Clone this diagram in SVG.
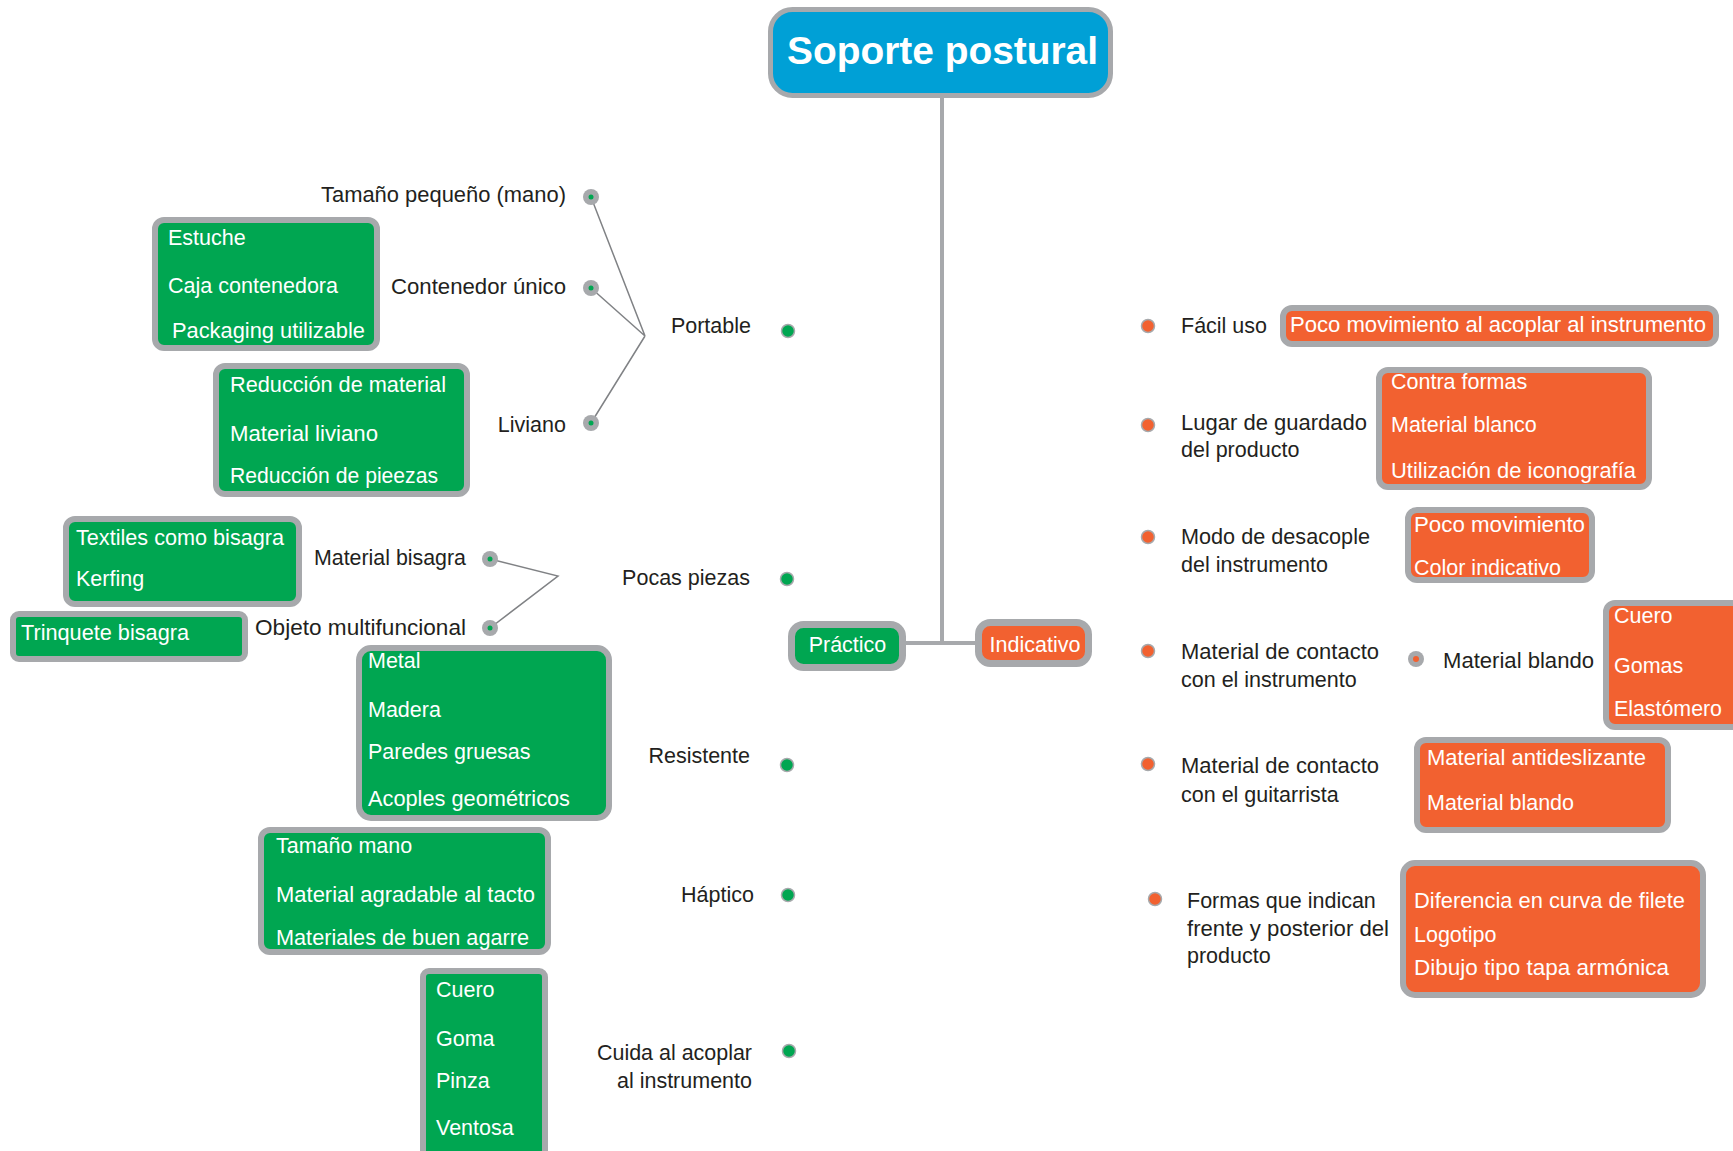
<svg xmlns="http://www.w3.org/2000/svg" width="1733" height="1151" viewBox="0 0 1733 1151">
<style>
.lbl{font-family:"Liberation Sans",Arial,sans-serif;font-size:21.5px;fill:#231f20}
.wt{font-family:"Liberation Sans",Arial,sans-serif;font-size:21.5px;fill:#ffffff}
.end{text-anchor:end}
.gbox{fill:#00a651;stroke:#a7a9ac;stroke-width:6}
.obox{fill:#f26130;stroke:#a7a9ac;stroke-width:6}
.dotg{fill:#00a651;stroke:#a7a9ac;stroke-width:1.5}
.doto{fill:#f26130;stroke:#a7a9ac;stroke-width:1.5}
.sub{fill:#a7a9ac}
.conn{stroke:#808285;stroke-width:1.5;fill:none}
.trunk{stroke:#a7a9ac;stroke-width:4;fill:none}
</style>
<rect width="1733" height="1151" fill="#ffffff"/>

<g id="connectors">
  <path class="trunk" d="M942 96 V643 M905 643 H977"/>
  <path class="conn" d="M591 197 L645 336 M591 288 L645 336 M591 423 L645 336"/>
  <path class="conn" d="M490 559 L558 576 L490 628"/>
</g>

<g id="title">
  <rect x="770.5" y="9.5" width="340" height="86" rx="22" fill="#00a0d6" stroke="#a7a9ac" stroke-width="5"/>
  <text x="942.5" y="64" text-anchor="middle" font-family="'Liberation Sans',Arial,sans-serif" font-size="39" font-weight="bold" fill="#ffffff" textLength="311" lengthAdjust="spacingAndGlyphs">Soporte postural</text>
</g>

<g id="practico">
  <rect x="791.5" y="624.5" width="111" height="43" rx="12" fill="#00a651" stroke="#a7a9ac" stroke-width="7"/>
  <text class="wt" x="847.5" y="652" text-anchor="middle" font-size="22">Práctico</text>
</g>
<g id="indicativo">
  <rect x="978.5" y="622.5" width="110" height="41" rx="12" fill="#f26130" stroke="#a7a9ac" stroke-width="7"/>
  <text class="wt" x="1035" y="652" text-anchor="middle" font-size="22">Indicativo</text>
</g>

<!-- Práctico branch -->
<g id="portable">
  <text class="lbl end" x="751" y="333">Portable</text>
  <circle class="dotg" cx="788" cy="331" r="6.5"/>
</g>
<g id="tamano-pequeno">
  <text class="lbl end" x="566" y="202" textLength="245" lengthAdjust="spacingAndGlyphs">Tamaño pequeño (mano)</text>
  <circle class="sub" cx="591" cy="197" r="8"/><circle cx="591" cy="197" r="2.5" fill="#00a651"/>
</g>
<g id="contenedor-unico">
  <text class="lbl end" x="566" y="294" textLength="175" lengthAdjust="spacingAndGlyphs">Contenedor único</text>
  <circle class="sub" cx="591" cy="288" r="8"/><circle cx="591" cy="288" r="2.5" fill="#00a651"/>
</g>
<g id="box-estuche">
  <rect class="gbox" x="155" y="220" width="222" height="128" rx="9"/>
  <text class="wt" x="168" y="245">Estuche</text>
  <text class="wt" x="168" y="293" textLength="170" lengthAdjust="spacingAndGlyphs">Caja contenedora</text>
  <text class="wt" x="172" y="338" textLength="193" lengthAdjust="spacingAndGlyphs">Packaging utilizable</text>
</g>
<g id="liviano">
  <text class="lbl end" x="566" y="432">Liviano</text>
  <circle class="sub" cx="591" cy="423" r="8"/><circle cx="591" cy="423" r="2.5" fill="#00a651"/>
</g>
<g id="box-reduccion">
  <rect class="gbox" x="216" y="366" width="251" height="128" rx="9"/>
  <text class="wt" x="230" y="392" textLength="216" lengthAdjust="spacingAndGlyphs">Reducción de material</text>
  <text class="wt" x="230" y="441" textLength="148" lengthAdjust="spacingAndGlyphs">Material liviano</text>
  <text class="wt" x="230" y="483" textLength="208" lengthAdjust="spacingAndGlyphs">Reducción de pieezas</text>
</g>

<g id="pocas-piezas">
  <text class="lbl end" x="750" y="585">Pocas piezas</text>
  <circle class="dotg" cx="787" cy="579" r="6.5"/>
</g>
<g id="material-bisagra">
  <text class="lbl end" x="466" y="565" textLength="152" lengthAdjust="spacingAndGlyphs">Material bisagra</text>
  <circle class="sub" cx="490" cy="559" r="8"/><circle cx="490" cy="559" r="2.5" fill="#00a651"/>
</g>
<g id="box-textiles">
  <rect class="gbox" x="66" y="519" width="233" height="85" rx="9"/>
  <text class="wt" x="76" y="545" textLength="208" lengthAdjust="spacingAndGlyphs">Textiles como bisagra</text>
  <text class="wt" x="76" y="586">Kerfing</text>
</g>
<g id="objeto-multifuncional">
  <text class="lbl end" x="466" y="635" textLength="211" lengthAdjust="spacingAndGlyphs">Objeto multifuncional</text>
  <circle class="sub" cx="490" cy="628" r="8"/><circle cx="490" cy="628" r="2.5" fill="#00a651"/>
</g>
<g id="box-trinquete">
  <rect class="gbox" x="13" y="614" width="232" height="45" rx="6"/>
  <text class="wt" x="21" y="640" textLength="168" lengthAdjust="spacingAndGlyphs">Trinquete bisagra</text>
</g>

<g id="resistente">
  <text class="lbl end" x="750" y="763">Resistente</text>
  <circle class="dotg" cx="787" cy="765" r="6.5"/>
</g>
<g id="box-metal">
  <rect class="gbox" x="359" y="648" width="250" height="170" rx="12"/>
  <text class="wt" x="368" y="668">Metal</text>
  <text class="wt" x="368" y="717">Madera</text>
  <text class="wt" x="368" y="759">Paredes gruesas</text>
  <text class="wt" x="368" y="806" textLength="202" lengthAdjust="spacingAndGlyphs">Acoples geométricos</text>
</g>

<g id="haptico">
  <text class="lbl end" x="754" y="902">Háptico</text>
  <circle class="dotg" cx="788" cy="895" r="6.5"/>
</g>
<g id="box-tamano-mano">
  <rect class="gbox" x="261" y="830" width="287" height="122" rx="9"/>
  <text class="wt" x="276" y="853">Tamaño mano</text>
  <text class="wt" x="276" y="902" textLength="259" lengthAdjust="spacingAndGlyphs">Material agradable al tacto</text>
  <text class="wt" x="276" y="945" textLength="253" lengthAdjust="spacingAndGlyphs">Materiales de buen agarre</text>
</g>

<g id="cuida">
  <text class="lbl end" x="752" y="1060" textLength="155" lengthAdjust="spacingAndGlyphs">Cuida al acoplar</text>
  <text class="lbl end" x="752" y="1088">al instrumento</text>
  <circle class="dotg" cx="789" cy="1051" r="6.5"/>
</g>
<g id="box-cuero-g">
  <rect class="gbox" x="423" y="971" width="122" height="190" rx="6"/>
  <text class="wt" x="436" y="997">Cuero</text>
  <text class="wt" x="436" y="1046">Goma</text>
  <text class="wt" x="436" y="1088">Pinza</text>
  <text class="wt" x="436" y="1135">Ventosa</text>
</g>

<!-- Indicativo branch -->
<g id="facil-uso">
  <circle class="doto" cx="1148" cy="326" r="6.5"/>
  <text class="lbl" x="1181" y="333">Fácil uso</text>
</g>
<g id="box-poco-acoplar">
  <rect class="obox" x="1283" y="308" width="433" height="36" rx="9"/>
  <text class="wt" x="1290" y="332" textLength="416" lengthAdjust="spacingAndGlyphs">Poco movimiento al acoplar al instrumento</text>
</g>

<g id="lugar-guardado">
  <circle class="doto" cx="1148" cy="425" r="6.5"/>
  <text class="lbl" x="1181" y="430" textLength="186" lengthAdjust="spacingAndGlyphs">Lugar de guardado</text>
  <text class="lbl" x="1181" y="457">del producto</text>
</g>
<g id="box-contra-formas">
  <rect class="obox" x="1379" y="370" width="270" height="117" rx="9"/>
  <text class="wt" x="1391" y="389">Contra formas</text>
  <text class="wt" x="1391" y="432">Material blanco</text>
  <text class="wt" x="1391" y="478" textLength="245" lengthAdjust="spacingAndGlyphs">Utilización de iconografía</text>
</g>

<g id="modo-desacople">
  <circle class="doto" cx="1148" cy="537" r="6.5"/>
  <text class="lbl" x="1181" y="544" textLength="189" lengthAdjust="spacingAndGlyphs">Modo de desacople</text>
  <text class="lbl" x="1181" y="572">del instrumento</text>
</g>
<g id="box-poco-movimiento">
  <rect class="obox" x="1408" y="510" width="184" height="70" rx="9"/>
  <text class="wt" x="1414" y="532" textLength="171" lengthAdjust="spacingAndGlyphs">Poco movimiento</text>
  <text class="wt" x="1414" y="575">Color indicativo</text>
</g>

<g id="contacto-instrumento">
  <circle class="doto" cx="1148" cy="651" r="6.5"/>
  <text class="lbl" x="1181" y="659" textLength="198" lengthAdjust="spacingAndGlyphs">Material de contacto</text>
  <text class="lbl" x="1181" y="687">con el instrumento</text>
</g>
<g id="material-blando">
  <circle class="sub" cx="1416" cy="659" r="8"/><circle cx="1416" cy="659" r="3" fill="#f26130"/>
  <text class="lbl" x="1443" y="668" textLength="151" lengthAdjust="spacingAndGlyphs">Material blando</text>
</g>
<g id="box-cuero-o">
  <rect class="obox" x="1606" y="603" width="135" height="124" rx="9"/>
  <text class="wt" x="1614" y="623">Cuero</text>
  <text class="wt" x="1614" y="673">Gomas</text>
  <text class="wt" x="1614" y="716" textLength="108" lengthAdjust="spacingAndGlyphs">Elastómero</text>
</g>

<g id="contacto-guitarrista">
  <circle class="doto" cx="1148" cy="764" r="6.5"/>
  <text class="lbl" x="1181" y="773" textLength="198" lengthAdjust="spacingAndGlyphs">Material de contacto</text>
  <text class="lbl" x="1181" y="802">con el guitarrista</text>
</g>
<g id="box-antideslizante">
  <rect class="obox" x="1417" y="740" width="251" height="90" rx="9"/>
  <text class="wt" x="1427" y="765" textLength="219" lengthAdjust="spacingAndGlyphs">Material antideslizante</text>
  <text class="wt" x="1427" y="810">Material blando</text>
</g>

<g id="formas">
  <circle class="doto" cx="1155" cy="899" r="6.5"/>
  <text class="lbl" x="1187" y="908">Formas que indican</text>
  <text class="lbl" x="1187" y="936" textLength="202" lengthAdjust="spacingAndGlyphs">frente y posterior del</text>
  <text class="lbl" x="1187" y="963">producto</text>
</g>
<g id="box-diferencia">
  <rect class="obox" x="1403" y="863" width="300" height="132" rx="12"/>
  <text class="wt" x="1414" y="908" textLength="271" lengthAdjust="spacingAndGlyphs">Diferencia en curva de filete</text>
  <text class="wt" x="1414" y="942">Logotipo</text>
  <text class="wt" x="1414" y="975" textLength="255" lengthAdjust="spacingAndGlyphs">Dibujo tipo tapa armónica</text>
</g>
</svg>
